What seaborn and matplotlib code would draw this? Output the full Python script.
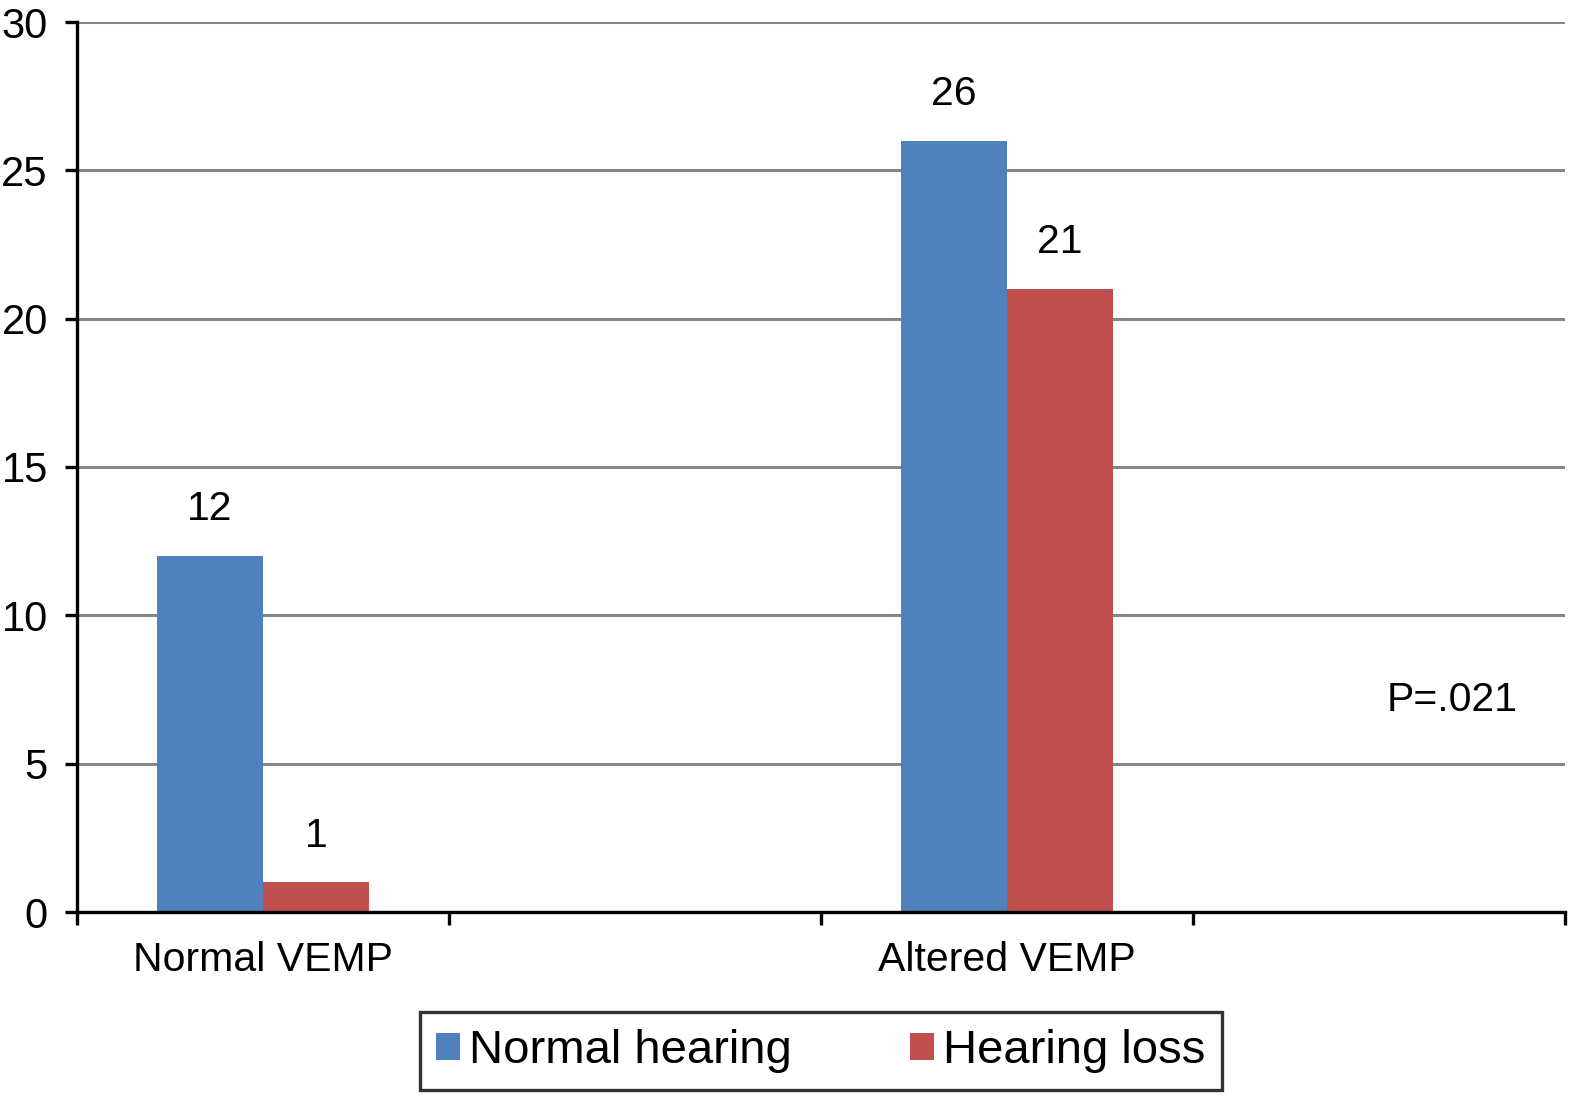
import matplotlib
matplotlib.use("Agg")
import matplotlib.pyplot as plt
import seaborn as sns
import pandas as pd
from matplotlib.ticker import FixedLocator, NullFormatter, FixedFormatter
from matplotlib.patches import Patch

categories = ["Normal VEMP", "Altered VEMP"]
slots = ["Normal VEMP", "gap1", "Altered VEMP", "gap2"]
normal_hearing = [12, 26]
hearing_loss = [1, 21]
series_names = ["Normal hearing", "Hearing loss"]
colors = ["#4F81BD", "#C0504D"]
y_ticks = [0, 5, 10, 15, 20, 25, 30]
p_text = "P=.021"

sns.set_theme(style="white")
plt.rcParams['font.family'] = ['Liberation Sans', 'DejaVu Sans']
plt.rcParams['text.color'] = 'black'

df = pd.DataFrame({
    "cat": categories * 2,
    "series": [series_names[0]] * 2 + [series_names[1]] * 2,
    "value": normal_hearing + hearing_loss,
})

fig = plt.figure(figsize=(15.83, 11.03), dpi=100)
ax = fig.add_axes([77/1583, 1 - 912/1103, (1565-77)/1583, (912-22)/1103])

sns.barplot(data=df, x="cat", y="value", hue="series", order=slots,
            hue_order=series_names, palette=colors, width=0.569,
            saturation=1, ax=ax, errorbar=None, legend=False, linewidth=0)

ax.set_xlim(-0.5, 3.5)
ax.set_ylim(0, 30)
ax.set_yticks(y_ticks)
ax.yaxis.grid(True, color="#868686", linewidth=2.2)
ax.set_axisbelow(True)
for s in ["top", "right"]:
    ax.spines[s].set_visible(False)
for s in ["left", "bottom"]:
    ax.spines[s].set_color("black")
    ax.spines[s].set_linewidth(2.4)

ax.xaxis.set_major_locator(FixedLocator([-0.5, 0.5, 1.5, 2.5, 3.5]))
ax.xaxis.set_major_formatter(NullFormatter())
ax.xaxis.set_minor_locator(FixedLocator([0, 2]))
ax.xaxis.set_minor_formatter(FixedFormatter(["Normal VEMP", "Altered VEMP"]))
ax.tick_params(axis="x", which="major", direction="out", length=9, width=2.4, color="black", bottom=True)
ax.tick_params(axis="x", which="minor", length=0, pad=21, labelsize=29.5, labelcolor="black", bottom=True)
ax.tick_params(axis="y", direction="out", length=9, width=2.4, color="black", left=True,
               labelsize=30, pad=12, labelcolor="black")
ax.set_xlabel("")
ax.set_ylabel("")

for cont in ax.containers:
    ax.bar_label(cont, padding=20, fontsize=29.5, color="black")

ax.text(3.196, 7.15, p_text, fontsize=29.5, ha="center", va="center", color="black")

handles = [Patch(facecolor=c, edgecolor="none") for c in colors]
leg = fig.legend(handles, series_names, loc="center", bbox_to_anchor=(821/1583, 1 - 1051/1103),
                 ncol=2, frameon=True, fancybox=False, edgecolor="black",
                 prop={"size": 34}, labelcolor="black",
                 handlelength=0.5, handleheight=0.5, handletextpad=0.2, columnspacing=2.5,
                 borderpad=0.35, borderaxespad=0)
leg.get_frame().set_linewidth(2.4)

fig.savefig("out.png", dpi=100)
